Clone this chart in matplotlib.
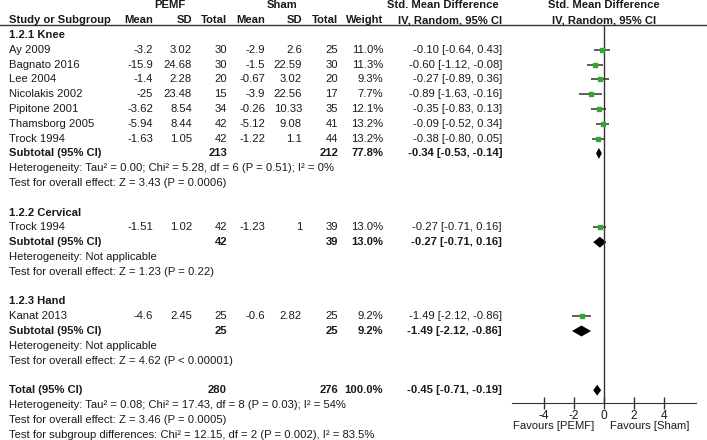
import matplotlib
matplotlib.use("Agg")
import matplotlib.pyplot as plt

plt.rcParams['font.family'] = ['Liberation Sans', 'DejaVu Sans']

# study level data
groups = ['1.2.1 Knee', '1.2.2 Cervical', '1.2.3 Hand']
group_of = [0, 0, 0, 0, 0, 0, 0, 1, 2]
studies = ['Ay 2009', 'Bagnato 2016', 'Lee 2004', 'Nicolakis 2002', 'Pipitone 2001',
           'Thamsborg 2005', 'Trock 1994', 'Trock 1994', 'Kanat 2013']
pemf_mean = [-3.2, -15.9, -1.4, -25, -3.62, -5.94, -1.63, -1.51, -4.6]
pemf_sd = [3.02, 24.68, 2.28, 23.48, 8.54, 8.44, 1.05, 1.02, 2.45]
pemf_n = [30, 30, 20, 15, 34, 42, 42, 42, 25]
sham_mean = [-2.9, -1.5, -0.67, -3.9, -0.26, -5.12, -1.22, -1.23, -0.6]
sham_sd = [2.6, 22.59, 3.02, 22.56, 10.33, 9.08, 1.1, 1, 2.82]
sham_n = [25, 30, 20, 17, 35, 41, 44, 39, 25]
weight = [11.0, 11.3, 9.3, 7.7, 12.1, 13.2, 13.2, 13.0, 9.2]
smd = [-0.10, -0.60, -0.27, -0.89, -0.35, -0.09, -0.38, -0.27, -1.49]
ci_lo = [-0.64, -1.12, -0.89, -1.63, -0.83, -0.52, -0.80, -0.71, -2.12]
ci_hi = [0.43, -0.08, 0.36, -0.16, 0.13, 0.34, 0.05, 0.16, -0.86]

# subgroup totals
sub_pemf_n = [213, 42, 25]
sub_sham_n = [212, 39, 25]
sub_weight = [77.8, 13.0, 9.2]
sub_smd = [-0.34, -0.27, -1.49]
sub_lo = [-0.53, -0.71, -2.12]
sub_hi = [-0.14, 0.16, -0.86]
sub_het = ['Heterogeneity: Tau² = 0.00; Chi² = 5.28, df = 6 (P = 0.51); I² = 0%',
           'Heterogeneity: Not applicable',
           'Heterogeneity: Not applicable']
sub_z = ['Test for overall effect: Z = 3.43 (P = 0.0006)',
         'Test for overall effect: Z = 1.23 (P = 0.22)',
         'Test for overall effect: Z = 4.62 (P < 0.00001)']

# overall
tot_pemf_n, tot_sham_n, tot_weight = 280, 276, 100.0
tot_smd, tot_lo, tot_hi = -0.45, -0.71, -0.19
tot_lines = ['Heterogeneity: Tau² = 0.08; Chi² = 17.43, df = 8 (P = 0.03); I² = 54%',
             'Test for overall effect: Z = 3.46 (P = 0.0005)',
             'Test for subgroup differences: Chi² = 12.15, df = 2 (P = 0.002), I² = 83.5%']

W, H = 707, 440
ROW0, STEP = 35.0, 14.8
def row_of(px):
    return (px - ROW0) / STEP

TXT = '#1a1a1a'
LINE = '#333333'
GREEN = '#2fa82f'
FS = 8.1

fig = plt.figure(figsize=(W / 100, H / 100), dpi=100)
ax = fig.add_axes([0, 0, 1, 1])
ax.set_xlim(0, W)
ax.set_ylim(row_of(H), row_of(0))
ax.axis('off')

# forest axes, x in SMD units
fx0, fx1, fzero, fscale = 512, 696, 604, 15.1
ytop, ybot = 25, 403
axf = fig.add_axes([fx0 / W, (H - ybot) / H, (fx1 - fx0) / W, (ybot - ytop) / H])
axf.set_xlim((fx0 - fzero) / fscale, (fx1 - fzero) / fscale)
axf.set_ylim(row_of(ybot), row_of(ytop))
axf.patch.set_alpha(0)
for s in ['top', 'left', 'right']:
    axf.spines[s].set_visible(False)
axf.spines['bottom'].set_color(LINE)
axf.set_yticks([])
axf.set_xticks([-4, -2, 0, 2, 4])
axf.set_xticklabels(['-4', '-2', '0', '2', '4'])
axf.tick_params(axis='x', direction='inout', length=8, width=1, color=LINE,
                labelsize=FS + 0.5, labelcolor=TXT, pad=0.8)
axf.axvline(0, color=LINE, lw=1)

# column right edges (pixels)
cols = [153, 192, 227, 265, 302, 338, 383, 502]

def put(x, r, s, ha='right', bold=False):
    ax.text(x, r, s, ha=ha, va='center', fontsize=FS, color=TXT,
            fontweight='bold' if bold else 'normal')

# header
put(170, -2, 'PEMF', ha='center', bold=True)
put(282, -2, 'Sham', ha='center', bold=True)
put(443, -2, 'Std. Mean Difference', ha='center', bold=True)
put(604, -2, 'Std. Mean Difference', ha='center', bold=True)
put(9, -1, 'Study or Subgroup', ha='left', bold=True)
for x, s in zip(cols, ['Mean', 'SD', 'Total', 'Mean', 'SD', 'Total', 'Weight',
                       'IV, Random, 95% CI']):
    put(x, -1, s, bold=True)
put(604, -1, 'IV, Random, 95% CI', ha='center', bold=True)
ax.axhline(row_of(ytop), color=LINE, lw=1)

def diamond(r, est, lo, hi, h=0.37):
    axf.fill([lo, est, hi, est], [r, r - h, r, r + h], color='black', lw=0)

r = 0
for g, gname in enumerate(groups):
    put(9, r, gname, ha='left', bold=True)
    r += 1
    for i in range(len(studies)):
        if group_of[i] != g:
            continue
        vals = [f'{pemf_mean[i]:g}', f'{pemf_sd[i]:g}', str(pemf_n[i]),
                f'{sham_mean[i]:g}', f'{sham_sd[i]:g}', str(sham_n[i]),
                f'{weight[i]:.1f}%',
                f'{smd[i]:.2f} [{ci_lo[i]:.2f}, {ci_hi[i]:.2f}]']
        put(9, r, studies[i], ha='left')
        for x, s in zip(cols, vals):
            put(x, r, s)
        axf.plot([ci_lo[i], ci_hi[i]], [r, r], color=LINE, lw=1.1, solid_capstyle='butt')
        axf.plot(smd[i], r, 's', color=GREEN, ms=1.5 + 0.09 * weight[i], mec=GREEN)
        r += 1
    put(9, r, 'Subtotal (95% CI)', ha='left', bold=True)
    put(cols[2], r, str(sub_pemf_n[g]), bold=True)
    put(cols[5], r, str(sub_sham_n[g]), bold=True)
    put(cols[6], r, f'{sub_weight[g]:.1f}%', bold=True)
    put(cols[7], r, f'{sub_smd[g]:.2f} [{sub_lo[g]:.2f}, {sub_hi[g]:.2f}]', bold=True)
    diamond(r, sub_smd[g], sub_lo[g], sub_hi[g])
    r += 1
    put(9, r, sub_het[g], ha='left')
    put(9, r + 1, sub_z[g], ha='left')
    r += 3

put(9, r, 'Total (95% CI)', ha='left', bold=True)
put(cols[2], r, str(tot_pemf_n), bold=True)
put(cols[5], r, str(tot_sham_n), bold=True)
put(cols[6], r, f'{tot_weight:.1f}%', bold=True)
put(cols[7], r, f'{tot_smd:.2f} [{tot_lo:.2f}, {tot_hi:.2f}]', bold=True)
diamond(r, tot_smd, tot_lo, tot_hi)
for k, s in enumerate(tot_lines):
    put(9, r + 1 + k, s, ha='left')

# favours labels under the axis
put(594, row_of(426), 'Favours [PEMF]', ha='right')
put(610, row_of(426), 'Favours [Sham]', ha='left')

fig.savefig('out.png', dpi=100)
